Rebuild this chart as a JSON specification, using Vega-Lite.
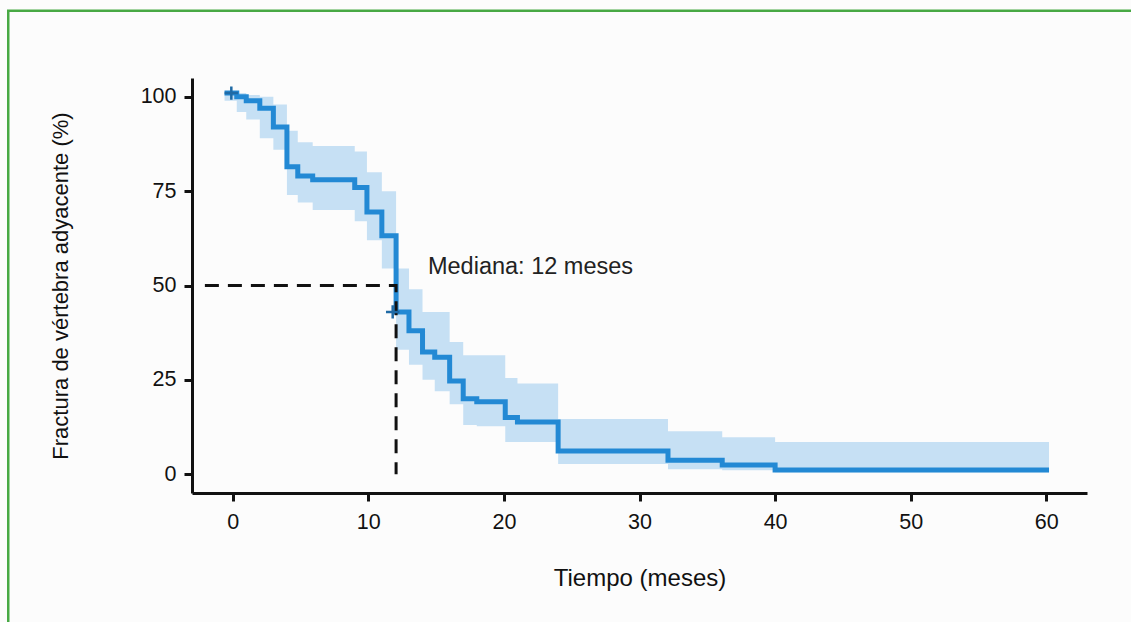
{
  "$schema": "https://vega.github.io/schema/vega-lite/v6.json",
  "width": 895,
  "height": 415,
  "autosize": {"type": "none"},
  "padding": {"left": 192, "top": 78, "right": 44, "bottom": 129},
  "background": "#fcfcfc",
  "config": {
    "view": {"stroke": null},
    "font": "Liberation Sans",
    "axis": {
      "grid": false,
      "domainColor": "#111111",
      "domainWidth": 3,
      "tickColor": "#111111",
      "tickWidth": 3,
      "tickSize": 8,
      "labelFont": "Liberation Sans",
      "labelFontSize": 21.5,
      "labelColor": "#111111",
      "titleFont": "Liberation Sans",
      "titleFontSize": 22,
      "titleFontWeight": "normal",
      "titleColor": "#111111"
    }
  },
  "datasets": {
    "km": [
      {"t": -0.6, "s": 101, "lo": 99, "hi": 101},
      {"t": 0.3, "s": 100, "lo": 96, "hi": 101},
      {"t": 1.0, "s": 99, "lo": 94, "hi": 100.5},
      {"t": 2.0, "s": 97, "lo": 89, "hi": 100},
      {"t": 3.0, "s": 92, "lo": 86, "hi": 98},
      {"t": 4.0, "s": 81.5, "lo": 74, "hi": 91},
      {"t": 4.8, "s": 79, "lo": 72, "hi": 88},
      {"t": 5.9, "s": 78, "lo": 70, "hi": 87},
      {"t": 9.0, "s": 76, "lo": 67, "hi": 85.5},
      {"t": 9.9, "s": 69.5, "lo": 62, "hi": 80},
      {"t": 11.0, "s": 63.2, "lo": 54.5, "hi": 75},
      {"t": 12.05, "s": 43, "lo": 33, "hi": 54.5},
      {"t": 13.0, "s": 38, "lo": 29, "hi": 49},
      {"t": 14.0, "s": 32.4, "lo": 25, "hi": 43},
      {"t": 14.9, "s": 31, "lo": 22, "hi": 43},
      {"t": 16.0, "s": 24.7, "lo": 18.5, "hi": 35},
      {"t": 17.0, "s": 20, "lo": 13, "hi": 31.5},
      {"t": 18.0, "s": 19.2, "lo": 12.7, "hi": 31.5},
      {"t": 20.1, "s": 15, "lo": 8.5, "hi": 25.5},
      {"t": 21.0, "s": 13.8, "lo": 8.5, "hi": 24},
      {"t": 24.0, "s": 6.1, "lo": 2.7, "hi": 14.6},
      {"t": 32.1, "s": 3.7, "lo": 1.3, "hi": 11.4},
      {"t": 36.1, "s": 2.4, "lo": 1.0, "hi": 9.8},
      {"t": 40.0, "s": 1.1, "lo": 0.5, "hi": 8.5},
      {"t": 60.2, "s": 1.1, "lo": 0.5, "hi": 8.5}
    ],
    "censor": [
      {"t": -0.1, "s": 101},
      {"t": 11.8, "s": 43}
    ],
    "median": [
      {"t": -2.05, "s": 50},
      {"t": 12.05, "s": 50},
      {"t": 12.05, "s": 0}
    ],
    "label": [
      {"t": 14.4, "s": 55, "text": "Mediana: 12 meses"}
    ]
  },
  "layer": [
    {
      "data": {"name": "km"},
      "mark": {"type": "area", "interpolate": "step-after", "color": "#c6e0f4", "opacity": 1},
      "encoding": {
        "x": {"field": "t", "type": "quantitative", "scale": {"domain": [-3, 63], "nice": false, "zero": false},
              "axis": {"values": [0, 10, 20, 30, 40, 50, 60], "title": "Tiempo (meses)", "labelPadding": 10, "titlePadding": 34, "titleFontSize": 24}},
        "y": {"field": "lo", "type": "quantitative", "scale": {"domain": [-5, 105], "nice": false, "zero": false},
              "axis": {"values": [0, 25, 50, 75, 100], "title": "Fractura de vértebra adyacente (%)", "labelPadding": 8, "titlePadding": 68}},
        "y2": {"field": "hi"}
      }
    },
    {
      "data": {"name": "km"},
      "mark": {"type": "line", "interpolate": "step-after", "color": "#2389d4", "strokeWidth": 5},
      "encoding": {
        "x": {"field": "t", "type": "quantitative"},
        "y": {"field": "s", "type": "quantitative"}
      }
    },
    {
      "data": {"name": "median"},
      "mark": {"type": "line", "color": "#111111", "strokeWidth": 3, "strokeDash": [14, 9]},
      "encoding": {
        "x": {"field": "t", "type": "quantitative"},
        "y": {"field": "s", "type": "quantitative"}
      }
    },
    {
      "data": {"name": "censor"},
      "mark": {"type": "point", "shape": "M-1,0H1M0,-1V1", "size": 180, "strokeWidth": 2.5, "color": "#1f6aa5", "filled": false, "opacity": 1},
      "encoding": {
        "x": {"field": "t", "type": "quantitative"},
        "y": {"field": "s", "type": "quantitative"}
      }
    },
    {
      "data": {"name": "label"},
      "mark": {"type": "text", "align": "left", "baseline": "middle", "fontSize": 23.5, "color": "#222222", "font": "Liberation Sans"},
      "encoding": {
        "x": {"field": "t", "type": "quantitative"},
        "y": {"field": "s", "type": "quantitative"},
        "text": {"field": "text"}
      }
    },
    {
      "data": {"values": [{}]},
      "mark": {"type": "rect", "fill": null, "stroke": "#48a944", "strokeWidth": 2.5, "clip": false},
      "encoding": {
        "x": {"datum": -16.55},
        "x2": {"datum": 70},
        "y": {"datum": 122.8},
        "y2": {"datum": -50}
      }
    }
  ]
}
